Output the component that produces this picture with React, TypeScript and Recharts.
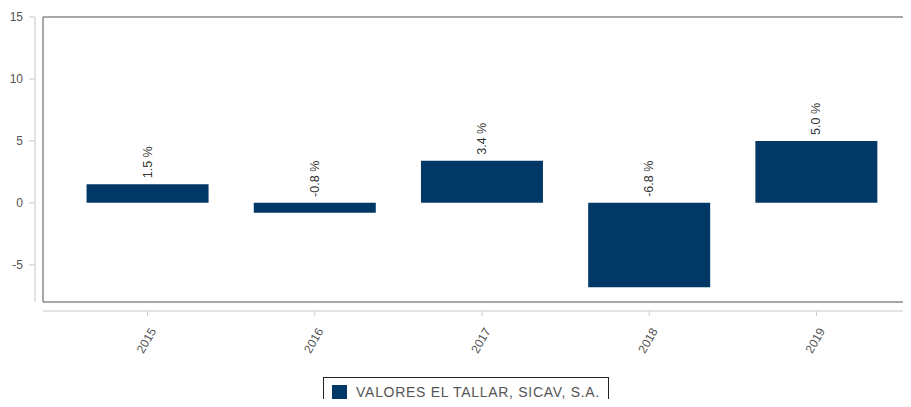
import { BarChart, Bar, XAxis, YAxis, Legend, LabelList, CartesianGrid } from 'recharts';

const years = ['2015', '2016', '2017', '2018', '2019'];
const returns = [1.5, -0.8, 3.4, -6.8, 5.0];
const yTicks = [15, 10, 5, 0, -5];
const seriesName = 'VALORES EL TALLAR, SICAV, S.A.';

const data = years.map((year, i) => ({ year, value: returns[i] }));

const BAR = '#023866';
const LIGHT = { stroke: '#c8c8c8' };

const BarLabel = ({ x, y, width, height, value }: any) => {
  const top = Math.min(y, y + height);
  const cx = x + width / 2;
  const ty = top - 6;
  return (
    <text
      x={cx}
      y={ty}
      transform={`rotate(-90, ${cx}, ${ty})`}
      textAnchor="start"
      dominantBaseline="central"
      fontSize={12.5}
      fill="#333"
    >
      {`${Number(value).toFixed(1)} %`}
    </text>
  );
};

const YearTick = ({ x, y, payload }: any) => (
  <text
    x={x + 9}
    y={y + 13}
    transform={`rotate(-60, ${x + 9}, ${y + 13})`}
    textAnchor="end"
    fontSize={12}
    fill="#555"
  >
    {payload.value}
  </text>
);

const LegendBox = () => (
  <div style={{ display: 'flex', justifyContent: 'center', paddingTop: 4 }}>
    <div
      style={{
        marginLeft: 22,
        border: '1.5px solid #222',
        padding: '6px 8px',
        display: 'flex',
        alignItems: 'center',
        fontFamily: '"Liberation Sans", Arial, sans-serif',
        fontSize: 14,
        letterSpacing: 0.7,
        color: '#555',
      }}
    >
      <span style={{ width: 15, height: 15, background: BAR, marginRight: 9, display: 'inline-block' }} />
      {seriesName}
    </div>
  </div>
);

// frame around the plot area: lines at its edges
const edgesY = ({ offset }: any) => [offset.top, offset.top + offset.height];
const edgesX = ({ offset }: any) => [offset.left, offset.left + offset.width];

export default function App() {
  return (
    <div style={{ margin: -8, fontFamily: '"Liberation Sans", Arial, sans-serif' }}>
      <BarChart
        width={911}
        height={407}
        data={data}
        margin={{ top: 17, right: 1, left: 0, bottom: 0 }}
        barCategoryGap="13.5%"
      >
        <XAxis xAxisId="a_sp" dataKey="year" height={9} tick={false} tickLine={false} axisLine={false} padding={{ left: 21, right: 10 }} />
        <XAxis
          xAxisId="b_cat"
          dataKey="year"
          height={62}
          axisLine={LIGHT}
          tickLine={LIGHT}
          tickSize={5}
          tick={<YearTick />}
          interval={0}
          padding={{ left: 21, right: 10 }}
        />
        <YAxis yAxisId="a_sp" width={8} domain={[-8, 15]} tick={false} tickLine={false} axisLine={false} />
        <YAxis
          yAxisId="b_val"
          width={35}
          domain={[-8, 15]}
          ticks={yTicks}
          axisLine={LIGHT}
          tickLine={LIGHT}
          tickSize={6}
          tickMargin={6}
          tick={{ fontSize: 12, fill: '#555' }}
        />
        <CartesianGrid
          xAxisId="b_cat"
          yAxisId="b_val"
          stroke="#8a8a8a"
          strokeWidth={1.5}
          horizontalCoordinatesGenerator={edgesY}
          verticalCoordinatesGenerator={edgesX}
        />
        <Legend verticalAlign="bottom" content={<LegendBox />} />
        <Bar xAxisId="b_cat" yAxisId="b_val" dataKey="value" name={seriesName} fill={BAR} isAnimationActive={false}>
          <LabelList dataKey="value" content={<BarLabel />} />
        </Bar>
      </BarChart>
    </div>
  );
}
